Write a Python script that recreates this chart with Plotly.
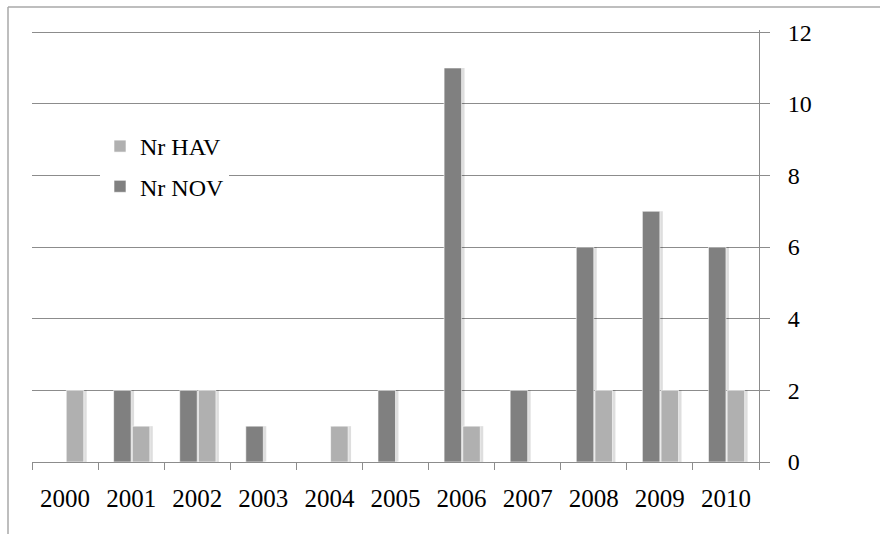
import plotly.graph_objects as go

years = ["2000", "2001", "2002", "2003", "2004", "2005",
         "2006", "2007", "2008", "2009", "2010"]
nr_hav = [2, 1, 2, 0, 1, 0, 1, 0, 2, 2, 2]
nr_nov = [0, 2, 2, 1, 0, 2, 11, 2, 6, 7, 6]
y_ticks = [0, 2, 4, 6, 8, 10, 12]

HAV_COLOR = "#b0b0b0"
NOV_COLOR = "#808080"
SHADOW = "rgba(0,0,0,0.13)"
FONT = "Liberation Serif"

# bar geometry, in category units (one category = 1.0)
BAR_W = 0.265
NOV_OFF = -0.265
HAV_OFF = 0.018
SHADOW_SHIFT = 0.045
Y_MAX = 12.06

fig = go.Figure()

# soft drop shadows behind each bar
for vals, off in ((nr_nov, NOV_OFF), (nr_hav, HAV_OFF)):
    fig.add_trace(go.Bar(
        x=years, y=vals, width=BAR_W, offset=off + SHADOW_SHIFT,
        marker=dict(color=SHADOW, line=dict(width=0)),
        showlegend=False, hoverinfo="skip",
    ))

fig.add_trace(go.Bar(
    name="Nr HAV", x=years, y=nr_hav, width=BAR_W, offset=HAV_OFF,
    legendgroup="hav",
    marker=dict(color=HAV_COLOR, line=dict(color="white", width=0.6)),
))
fig.add_trace(go.Bar(
    name="Nr NOV", x=years, y=nr_nov, width=BAR_W, offset=NOV_OFF,
    legendgroup="nov",
    marker=dict(color=NOV_COLOR, line=dict(color="white", width=0.6)),
))

# plot area spans x 32..759 px; y = 0 sits at 462 px, y = 12 at 32 px
L, R, B = 32, 121, 72
PW = 880 - L - R
PH = round(430 * Y_MAX / 12)
T = 534 - B - PH


def px_x(x):
    return (x - L) / PW


def px_y(y):
    return (534 - B - y) / PH


fig.update_layout(
    template="none",
    width=880, height=534,
    margin=dict(l=L, r=R, t=T, b=B),
    barmode="overlay",
    paper_bgcolor="white", plot_bgcolor="white",
    font=dict(family=FONT, color="black", size=24),
    legend=dict(
        x=px_x(100), y=px_y(124), xanchor="left", yanchor="top",
        bgcolor="white", font=dict(family=FONT, size=24, color="black"),
        borderwidth=0, tracegroupgap=6,
    ),
    xaxis=dict(
        type="category", range=[-0.5, 10.5],
        showgrid=False, showline=True, linecolor="#8c8c8c", linewidth=1,
        ticks="outside", tickson="boundaries", ticklen=7,
        tickcolor="#8c8c8c", tickwidth=1,
        tickfont=dict(family=FONT, size=25, color="black"),
        ticklabelstandoff=14,
    ),
    yaxis=dict(
        side="right", range=[0, Y_MAX], tickvals=y_ticks,
        showgrid=True, gridcolor="#8c8c8c", gridwidth=1,
        showline=True, linecolor="#8c8c8c", linewidth=1,
        ticks="outside", ticklen=10, tickcolor="#8c8c8c", tickwidth=1,
        tickfont=dict(family=FONT, size=24, color="black"),
        ticklabelstandoff=13, zeroline=False,
    ),
    shapes=[
        # outer chart frame: left and top edges
        dict(type="line", xref="paper", yref="paper",
             x0=px_x(8), x1=px_x(8), y0=px_y(7), y1=px_y(534),
             line=dict(color="#a8a8a8", width=1.5)),
        dict(type="line", xref="paper", yref="paper",
             x0=px_x(8), x1=px_x(880), y0=px_y(7), y1=px_y(7),
             line=dict(color="#a8a8a8", width=1.5)),
    ],
)

fig.write_html("out.html")
